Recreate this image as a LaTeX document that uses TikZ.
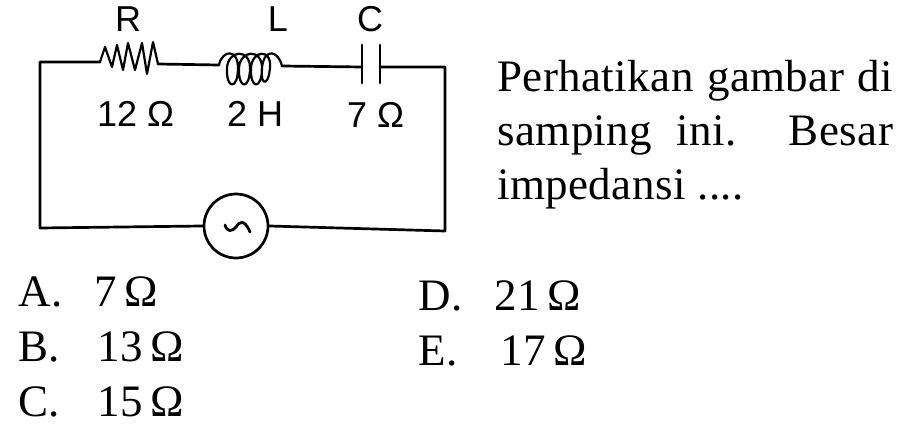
\documentclass[tikz,border=0pt]{standalone}
\usepackage{fontspec}
\setmainfont[LetterSpace=1]{Liberation Serif}
\setsansfont{Liberation Sans}
\newcommand{\gapO}{\hspace{8pt}Ω}
\tikzset{
	wire/.style={line width=2.7pt},
	part/.style={font=\sffamily\fontsize{36}{38}\selectfont,inner sep=0pt},
	answer/.style={font=\fontsize{45}{54}\selectfont,anchor=base west,inner sep=0pt}
}
\begin{document}
\begin{tikzpicture}[x=1pt,y=-1pt,line join=round,line cap=round]
	\useasboundingbox (0,0) rectangle (922,441);
	% corners of the loop
	\coordinate (TL) at (40,62);
	\coordinate (TR) at (445,67);
	\coordinate (BL) at (40,228);
	\coordinate (BR) at (445,231);
	% parts on the top wire
	\coordinate (R1) at (100,62);
	\coordinate (R2) at (158,64);
	\coordinate (L1) at (219,65);
	\coordinate (L2) at (282,66);
	\coordinate (C1) at (362,67);
	\coordinate (C2) at (380,67);
	\node[circle,draw,line width=2.7pt,minimum size=64pt,inner sep=0pt] (S) at (236,226) {};
	\draw[wire] (R1)--(TL)--(BL)--(S.west);
	\draw[wire] (S.east)--(BR)--(TR)--(C2);
	\draw[wire] (R2)--(L1);
	\draw[wire] (L2)--(C1);
	\draw[line width=2.2pt] (R1)--(105,47)--(112,67)--(117,45)--(123,70)--(128,43)--(135,70)--(142,43)--(147,74)--(153,42)--(R2);
	\draw[line width=2.2pt] (L1) .. controls (222,50) and (238,48) .. (238,68) .. controls (238,90) and (226,90) .. (227,68)
		.. controls (228,50) and (250,48) .. (250,68) .. controls (250,90) and (238,90) .. (239,68)
		.. controls (240,50) and (262,48) .. (262,68) .. controls (262,90) and (250,90) .. (251,68)
		.. controls (252,50) and (272,48) .. (270,68) .. controls (268,90) and (258,84) .. (263,62)
		.. controls (266,50) and (278,50) .. (L2);
	\draw[line width=2.8pt] (C1|-0,45)--(C1|-0,83);
	\draw[line width=2.8pt] (C2|-0,45)--(C2|-0,83);
	% source sign
	\draw[line width=2.8pt] (225,225) .. controls (227,232) and (232,232) .. (236,227) .. controls (239,222) and (244,218) .. (250,232);
	% labels
	\node[part] (lR) at (128,19) {R};
	\node[part] (lL) at (278,19) {L};
	\node[part] (lC) at (370,19) {C};
	\node[part,anchor=base west] (v1) at (97,127) {12 Ω};
	\node[part,anchor=base west] (v2) at (227,127) {2 H};
	\node[part,anchor=base west] (v3) at (347,128) {7 Ω};
	% question
	\node[answer,text width=396pt,align=justify] (Q) at (497,92) {Perhatikan gambar di samping ini. Besar impedansi ....};
	\node[answer] (A) at (18,306) {\makebox[76pt][l]{A.}7\gapO};
	\node[answer] (B) at (18,361) {\makebox[79pt][l]{B.}13\gapO};
	\node[answer] (C) at (18,416) {\makebox[79pt][l]{C.}15\gapO};
	\node[answer] (D) at (418,310) {\makebox[76pt][l]{D.}21\gapO};
	\node[answer] (E) at (418,365) {\makebox[82pt][l]{E.}17\gapO};
\end{tikzpicture}
\end{document}
